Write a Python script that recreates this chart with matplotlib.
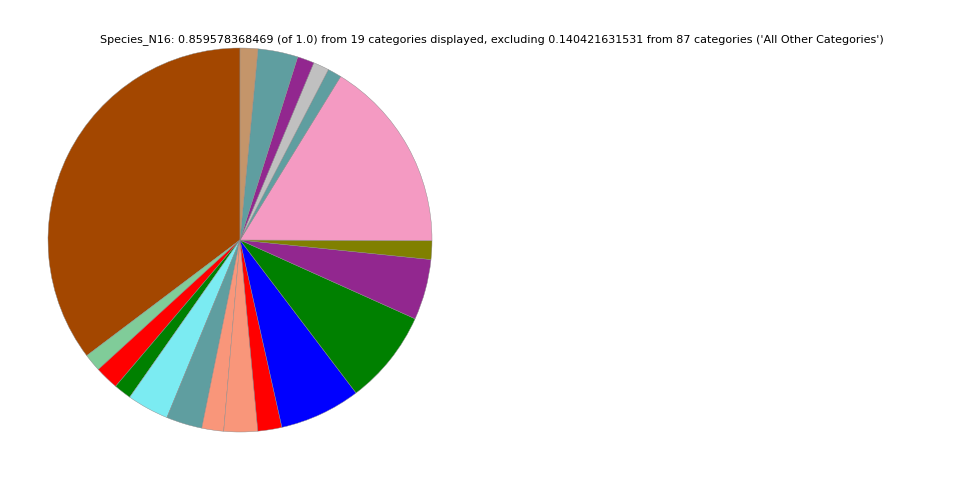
import matplotlib
matplotlib.use("Agg")
import matplotlib.pyplot as plt

categories = ["Cat01", "Cat02", "Cat03", "Cat04", "Cat05", "Cat06", "Cat07", "Cat08",
              "Cat09", "Cat10", "Cat11", "Cat12", "Cat13", "Cat14", "Cat15", "Cat16",
              "Cat17", "Cat18", "Cat19"]
values = [0.3035, 0.0129, 0.0172, 0.0127, 0.0303, 0.0260, 0.0158, 0.0244, 0.0174,
          0.0587, 0.0683, 0.0439, 0.0136, 0.1399, 0.0100, 0.0115, 0.0122, 0.0289, 0.0129]
colors = ["#A34700", "#80CC99", "#FF0000", "#008000", "#7BEBF2", "#5F9EA0", "#F9967A",
          "#F9967A", "#FF0000", "#0000FF", "#008000", "#92278F", "#808000", "#F49AC2",
          "#5F9EA0", "#C0C0C0", "#92278F", "#5F9EA0", "#C4956A"]
title = ("Species_N16: 0.859578368469 (of 1.0) from 19 categories displayed, "
         "excluding 0.140421631531 from 87 categories ('All Other Categories')")

fig = plt.figure(figsize=(9.6, 4.8), dpi=100)
ax = fig.add_axes([48/960, 48/480, 384/960, 384/480])
ax.pie(values, colors=colors, startangle=90, counterclock=True, normalize=True,
       wedgeprops=dict(linewidth=0.3, edgecolor="#888888"))
ax.set_xlim(-1, 1)
ax.set_ylim(-1, 1)
ax.set_aspect("equal")
ax.axis("off")
fig.text(492/960, 1 - 40/480, title, ha="center", va="center", fontsize=8)
fig.savefig("out.png", dpi=100)
